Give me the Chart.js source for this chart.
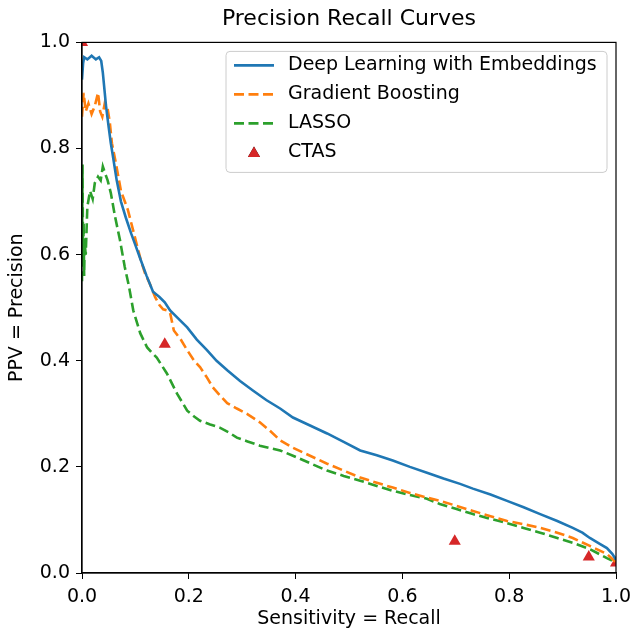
<!DOCTYPE html>
<html>
<head>
<meta charset="utf-8">
<script src="https://cdn.jsdelivr.net/npm/chart.js@4"></script>
<style>
  body { margin: 0; background: #fff; }
  #wrap { width: 632px; height: 630px; }
</style>
</head>
<body>
<div id="wrap"><canvas id="pr" width="632" height="630"></canvas></div>
<script>
// Deep Learning with Embeddings
var dlRecall = [0, 0.002, 0.004, 0.010, 0.018, 0.026, 0.032, 0.036, 0.039, 0.045,
    0.050, 0.054, 0.058, 0.065, 0.073, 0.082, 0.092, 0.101, 0.110, 0.121,
    0.133, 0.145, 0.155, 0.165, 0.180, 0.197, 0.215, 0.234, 0.252, 0.272,
    0.296, 0.320, 0.345, 0.371, 0.395, 0.427, 0.459, 0.490, 0.521, 0.552,
    0.582, 0.614, 0.646, 0.677, 0.708, 0.732, 0.765, 0.796, 0.827, 0.858,
    0.890, 0.919, 0.937, 0.951, 0.968, 0.983, 0.993, 1.0];
var dlPrecision = [0.93, 0.96, 0.972, 0.968, 0.975, 0.968, 0.972, 0.965, 0.943, 0.88,
    0.84, 0.81, 0.785, 0.74, 0.70, 0.67, 0.64, 0.615, 0.59, 0.56,
    0.53, 0.52, 0.51, 0.495, 0.48, 0.463, 0.44, 0.42, 0.40, 0.382,
    0.362, 0.344, 0.326, 0.31, 0.293, 0.278, 0.263, 0.247, 0.231, 0.222,
    0.212, 0.200, 0.189, 0.178, 0.168, 0.159, 0.148, 0.136, 0.124, 0.111,
    0.098, 0.085, 0.076, 0.066, 0.056, 0.047, 0.036, 0.025];

// Gradient Boosting
var gbRecall = [0, 0.003, 0.007, 0.012, 0.018, 0.024, 0.030, 0.034, 0.038, 0.043,
    0.048, 0.052, 0.056, 0.062, 0.073, 0.086, 0.099, 0.110, 0.118, 0.127,
    0.137, 0.145, 0.152, 0.159, 0.165, 0.172, 0.185, 0.197, 0.210, 0.221,
    0.233, 0.245, 0.258, 0.272, 0.290, 0.309, 0.333, 0.352, 0.371, 0.395,
    0.427, 0.459, 0.490, 0.521, 0.552, 0.582, 0.614, 0.646, 0.670, 0.700,
    0.732, 0.765, 0.796, 0.827, 0.858, 0.890, 0.919, 0.951, 0.983, 1.0];
var gbPrecision = [0.86, 0.905, 0.87, 0.885, 0.865, 0.88, 0.905, 0.87, 0.86, 0.887,
    0.875, 0.85, 0.81, 0.78, 0.72, 0.684, 0.633, 0.59, 0.565, 0.545,
    0.52, 0.505, 0.497, 0.495, 0.49, 0.457, 0.44, 0.42, 0.40, 0.388,
    0.37, 0.35, 0.335, 0.32, 0.31, 0.30, 0.284, 0.268, 0.25, 0.236,
    0.221, 0.206, 0.193, 0.18, 0.17, 0.161, 0.151, 0.142, 0.136, 0.127,
    0.117, 0.107, 0.098, 0.092, 0.085, 0.076, 0.066, 0.051, 0.036, 0.02];

// LASSO
var laRecall = [0, 0.001, 0.002, 0.003, 0.004, 0.005, 0.007, 0.010, 0.015, 0.020,
    0.024, 0.030, 0.035, 0.039, 0.043, 0.048, 0.054, 0.062, 0.071, 0.080,
    0.088, 0.096, 0.109, 0.122, 0.131, 0.140, 0.159, 0.178, 0.197, 0.210,
    0.221, 0.240, 0.258, 0.275, 0.290, 0.310, 0.333, 0.371, 0.395, 0.427,
    0.459, 0.490, 0.521, 0.552, 0.582, 0.614, 0.646, 0.670, 0.700, 0.732,
    0.765, 0.796, 0.827, 0.858, 0.890, 0.919, 0.951, 0.983, 1.0];
var laPrecision = [0.55, 0.77, 0.58, 0.66, 0.56, 0.62, 0.60, 0.69, 0.72, 0.705,
    0.735, 0.747, 0.74, 0.766, 0.754, 0.74, 0.716, 0.671, 0.628, 0.577,
    0.54, 0.495, 0.452, 0.425, 0.415, 0.406, 0.376, 0.338, 0.306, 0.295,
    0.287, 0.28, 0.274, 0.265, 0.255, 0.248, 0.24, 0.231, 0.221, 0.207,
    0.193, 0.183, 0.174, 0.164, 0.155, 0.147, 0.14, 0.13, 0.121, 0.111,
    0.102, 0.094, 0.085, 0.076, 0.066, 0.057, 0.045, 0.028, 0.02];

// CTAS points
var ctasRecall = [0, 0.155, 0.698, 0.949, 1.0];
var ctasPrecision = [1.0, 0.431, 0.06, 0.03, 0.019];

var axisTicks = [0, 0.2, 0.4, 0.6, 0.8, 1.0];

var FONT = "'DejaVu Sans', sans-serif";

function pares(xs, ys) {
    var out = [];
    for (var i = 0; i < xs.length; i++) out.push({x: xs[i], y: ys[i]});
    return out;
}

var series = [
    {label: 'Deep Learning with Embeddings', color: '#1f77b4', dash: [], data: pares(dlRecall, dlPrecision)},
    {label: 'Gradient Boosting', color: '#ff7f0e', dash: [10, 4.5], data: pares(gbRecall, gbPrecision)},
    {label: 'LASSO', color: '#2ca02c', dash: [10, 4.5], data: pares(laRecall, laPrecision)}
];

var datasets = series.map(function(s) {
    return {
        label: s.label,
        data: s.data,
        showLine: true,
        borderColor: s.color,
        backgroundColor: s.color,
        borderWidth: 2.6,
        borderDash: s.dash,
        pointRadius: 0,
        tension: 0,
        clip: 0
    };
});
datasets.push({
    label: 'CTAS',
    data: pares(ctasRecall, ctasPrecision),
    showLine: false,
    pointStyle: 'triangle',
    pointRadius: 7,
    backgroundColor: '#d62728',
    borderColor: '#d62728',
    borderWidth: 0,
    clip: 0
});

// frame + legend drawn on top, matplotlib style
var marco = {
    id: 'marco',
    afterDraw: function(chart) {
        var ctx = chart.ctx, a = chart.chartArea;
        ctx.save();
        ctx.strokeStyle = '#000';
        ctx.lineWidth = 1.2;
        ctx.strokeRect(a.left, a.top, a.right - a.left, a.bottom - a.top);

        // legend box
        var bx = a.left + 144, by = a.top + 9, bw = a.right - bx - 9, bh = 121;
        ctx.beginPath();
        ctx.roundRect(bx, by, bw, bh, 4);
        ctx.fillStyle = 'rgba(255,255,255,0.8)';
        ctx.fill();
        ctx.strokeStyle = '#cccccc';
        ctx.lineWidth = 1;
        ctx.stroke();

        var filas = [by + 14, by + 43, by + 72, by + 101];
        ctx.font = '19px ' + FONT;
        ctx.textBaseline = 'middle';
        ctx.textAlign = 'left';
        chart.data.datasets.forEach(function(ds, i) {
            var y = filas[i];
            if (ds.showLine) {
                ctx.beginPath();
                ctx.setLineDash(ds.borderDash);
                ctx.strokeStyle = ds.borderColor;
                ctx.lineWidth = ds.borderWidth;
                ctx.moveTo(bx + 8, y);
                ctx.lineTo(bx + 48, y);
                ctx.stroke();
                ctx.setLineDash([]);
            } else {
                Chart.helpers.drawPoint(ctx, {pointStyle: 'triangle', radius: 7, borderWidth: 0}, bx + 28, y + 1);
                ctx.fillStyle = ds.backgroundColor;
                ctx.fill();
            }
            ctx.fillStyle = '#000';
            ctx.fillText(ds.label, bx + 62, y);
        });
        ctx.restore();
    }
};

new Chart(document.getElementById('pr'), {
    type: 'scatter',
    data: {datasets: datasets},
    options: {
        responsive: false,
        animation: false,
        devicePixelRatio: 1,
        layout: {padding: {top: 0, right: 16, bottom: 0, left: 0}},
        plugins: {
            legend: {display: false},
            tooltip: {enabled: false},
            title: {
                display: true,
                fullSize: false,
                text: 'Precision Recall Curves',
                color: '#000',
                font: {family: FONT, size: 22, weight: 'normal'},
                padding: {top: 6, bottom: 10}
            }
        },
        scales: {
            x: {
                type: 'linear',
                min: 0,
                max: 1,
                afterFit: function(s) {
                    s.height = 57;
                    s.paddingLeft = 0;
                    s.paddingRight = 0;
                },
                afterBuildTicks: function(s) { s.ticks = axisTicks.map(function(v) { return {value: v}; }); },
                ticks: {
                    color: '#000',
                    font: {family: FONT, size: 19},
                    padding: 7,
                    maxRotation: 0,
                    callback: function(v) { return v.toFixed(1); }
                },
                grid: {display: true, drawOnChartArea: false, drawTicks: true, tickLength: 6, color: '#000'},
                border: {display: true, color: '#000', width: 1.2},
                title: {
                    display: true,
                    text: 'Sensitivity = Recall',
                    color: '#000',
                    font: {family: FONT, size: 19},
                    padding: {top: 0, bottom: 0}
                }
            },
            y: {
                type: 'linear',
                min: 0,
                max: 1,
                afterFit: function(s) {
                    s.width = 82;
                    s.paddingTop = 0;
                    s.paddingBottom = 0;
                },
                afterBuildTicks: function(s) { s.ticks = axisTicks.map(function(v) { return {value: v}; }); },
                ticks: {
                    color: '#000',
                    font: {family: FONT, size: 19},
                    padding: 6,
                    callback: function(v) { return v.toFixed(1); }
                },
                grid: {display: true, drawOnChartArea: false, drawTicks: true, tickLength: 6, color: '#000'},
                border: {display: true, color: '#000', width: 1.2},
                title: {
                    display: true,
                    text: 'PPV = Precision',
                    color: '#000',
                    font: {family: FONT, size: 19},
                    padding: {top: 6, bottom: 0}
                }
            }
        }
    },
    plugins: [marco]
});
</script>
</body>
</html>
